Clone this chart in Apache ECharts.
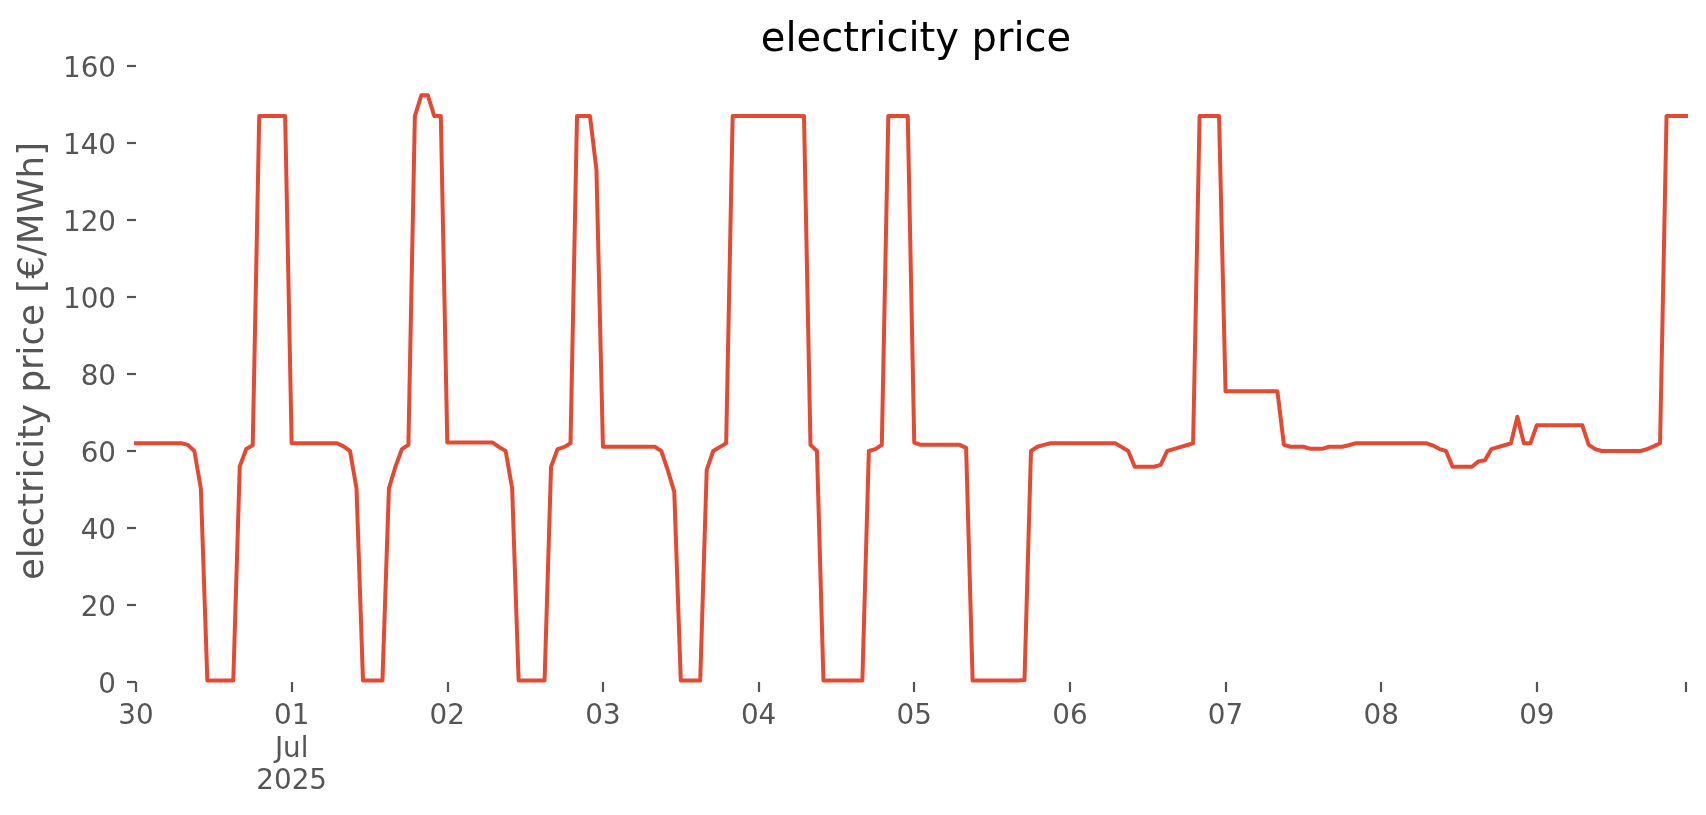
<!DOCTYPE html>
<html>
<head>
<meta charset="utf-8">
<script src="https://cdn.jsdelivr.net/npm/echarts@6/dist/echarts.min.js"></script>
<style>
  html, body { margin: 0; padding: 0; background: #ffffff; }
  #chart { width: 1706px; height: 815px; }
</style>
</head>
<body>
<div id="chart"></div>
<script>
// Tick labels for each day (one major tick per day, 24 hourly points per day)
const dayLabels = ['30', '01\nJul\n2025', '02', '03', '04', '05', '06', '07', '08', '09'];
const hoursPerDay = 24;

// Hourly electricity price [€/MWh], one array per day (30 Jun 2025 – 09 Jul 2025)
const pricesJun30 = [62, 62, 62, 62, 62, 62, 62, 62, 61.6, 60, 50.3, 0.4, 0.4, 0.4, 0.4, 0.4, 56, 60.5, 61.5, 147, 147, 147, 147, 147];
const pricesJul01 = [62, 62, 62, 62, 62, 62, 62, 62, 61.2, 60, 50.3, 0.4, 0.4, 0.4, 0.4, 50.3, 55.9, 60.5, 61.6, 147, 152.4, 152.4, 147, 147];
const pricesJul02 = [62.2, 62.2, 62.2, 62.2, 62.2, 62.2, 62.2, 62.2, 61, 60, 50.3, 0.4, 0.4, 0.4, 0.4, 0.4, 55.9, 60.5, 61, 62, 147, 147, 147, 133];
const pricesJul03 = [61.1, 61.1, 61.1, 61.1, 61.1, 61.1, 61.1, 61.1, 61.1, 60, 55, 49.4, 0.4, 0.4, 0.4, 0.4, 55.1, 60, 61, 62, 147, 147, 147, 147];
const pricesJul04 = [147, 147, 147, 147, 147, 147, 147, 147, 61.6, 60, 0.4, 0.4, 0.4, 0.4, 0.4, 0.4, 0.4, 60, 60.5, 61.6, 147, 147, 147, 147];
const pricesJul05 = [62.2, 61.6, 61.6, 61.6, 61.6, 61.6, 61.6, 61.6, 60.8, 0.4, 0.4, 0.4, 0.4, 0.4, 0.4, 0.4, 0.4, 0.5, 60, 61.1, 61.6, 62, 62, 62];
const pricesJul06 = [62, 62, 62, 62, 62, 62, 62, 62, 61, 60, 55.9, 55.9, 55.9, 55.9, 56.4, 60, 60.5, 61, 61.5, 62, 147, 147, 147, 147];
const pricesJul07 = [75.5, 75.5, 75.5, 75.5, 75.5, 75.5, 75.5, 75.5, 75.5, 61.6, 61.1, 61.1, 61.1, 60.6, 60.6, 60.6, 61.1, 61.1, 61.1, 61.5, 62, 62, 62, 62];
const pricesJul08 = [62, 62, 62, 62, 62, 62, 62, 62, 61.4, 60.5, 60, 55.9, 55.9, 55.9, 55.9, 57.3, 57.6, 60.5, 61, 61.5, 62, 68.9, 62, 62];
const pricesJul09 = [66.7, 66.7, 66.7, 66.7, 66.7, 66.7, 66.7, 66.7, 61.6, 60.5, 60, 60, 60, 60, 60, 60, 60, 60.5, 61.2, 62, 147, 147, 147, 147];

const dailyPrices = [pricesJun30, pricesJul01, pricesJul02, pricesJul03, pricesJul04,
                     pricesJul05, pricesJul06, pricesJul07, pricesJul08, pricesJul09];

// Build [hourIndex, price] pairs for the library
const seriesData = [];
dailyPrices.forEach(function (day, d) {
  day.forEach(function (v, h) { seriesData.push([d * hoursPerDay + h, v]); });
});
const lastHour = seriesData.length - 1;

const FONT = 'DejaVu Sans';
const GREY = '#555555';

const chart = echarts.init(document.getElementById('chart'), null, { renderer: 'canvas' });
chart.setOption({
  animation: false,
  backgroundColor: '#ffffff',
  title: {
    text: 'electricity price',
    left: 911,
    textAlign: 'center',
    top: 16,
    textStyle: { fontFamily: FONT, fontSize: 40, fontWeight: 'normal', color: '#000000' }
  },
  grid: { left: 136, right: 20, top: 66, bottom: 133, containLabel: false, outerBoundsMode: 'none' },
  xAxis: {
    type: 'value',
    min: 0,
    max: lastHour,
    interval: hoursPerDay,
    axisLine: { show: false },
    splitLine: { show: false },
    axisTick: { show: true, inside: false, length: 10, lineStyle: { color: GREY, width: 2.2 } },
    axisLabel: {
      margin: 19,
      fontFamily: FONT,
      fontSize: 27.8,
      lineHeight: 32.5,
      color: GREY,
      showMinLabel: true,
      showMaxLabel: true,
      formatter: function (v) {
        if (v % hoursPerDay !== 0) return '';
        const i = v / hoursPerDay;
        return i < dayLabels.length ? dayLabels[i] : '';
      }
    }
  },
  yAxis: {
    type: 'value',
    min: 0,
    max: 160,
    interval: 20,
    name: 'electricity price [€/MWh]',
    nameLocation: 'middle',
    nameRotate: 90,
    nameGap: 79,
    nameTextStyle: { fontFamily: FONT, fontSize: 35.6, color: GREY, padding: [0, 0, 0, 26] },
    axisLine: { show: false },
    splitLine: { show: false },
    axisTick: { show: true, inside: false, length: 9, lineStyle: { color: GREY, width: 2.2 } },
    axisLabel: { margin: 20, fontFamily: FONT, fontSize: 27.8, color: GREY, verticalAlign: 'top', lineHeight: 7 }
  },
  series: [{
    type: 'line',
    data: seriesData,
    showSymbol: false,
    symbol: 'none',
    lineStyle: { color: '#E24A33', width: 4, join: 'round', cap: 'square' },
    itemStyle: { color: '#E24A33' }
  }]
});
</script>
</body>
</html>
